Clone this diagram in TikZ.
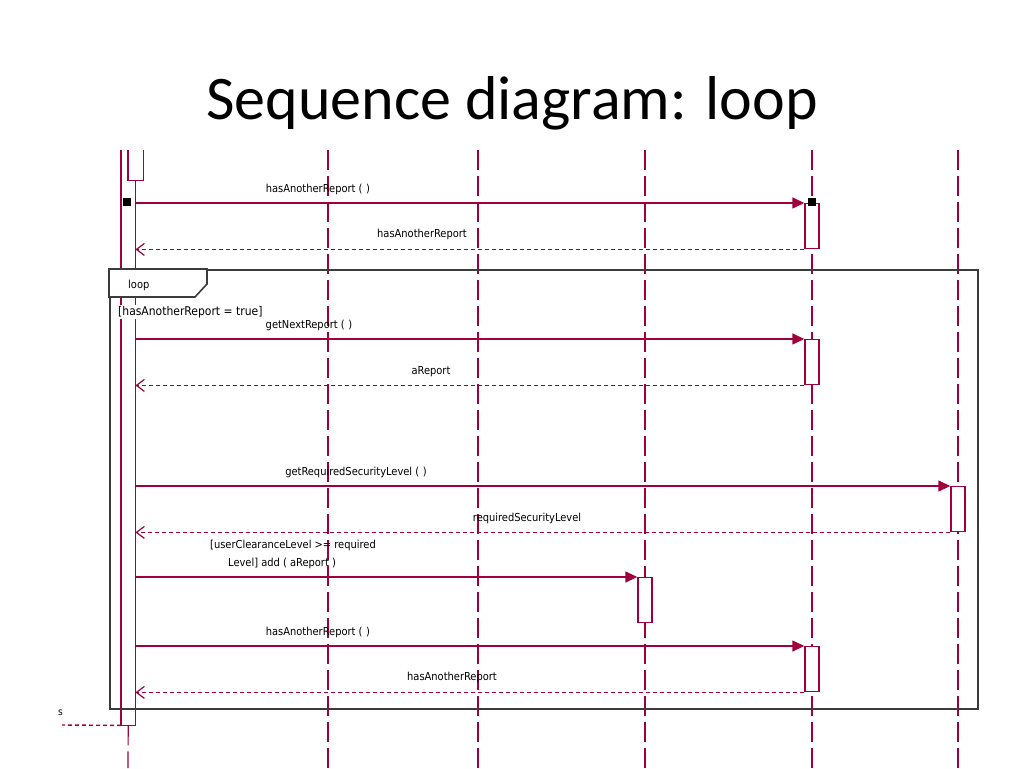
\documentclass[tikz,border=0pt]{standalone}
\usepackage{fontspec}
\setmainfont{Liberation Sans}
\newfontfamily\titlefont{Carlito}
\newfontfamily\lblfont{DejaVu Sans Condensed}
\usetikzlibrary{arrows.meta}
\definecolor{uml}{RGB}{160,0,60}
\definecolor{framegrey}{RGB}{60,60,60}
\begin{document}
\begin{tikzpicture}[x=1pt,y=-1pt,
  lbl/.style={font=\lblfont\fontsize{11}{12}\selectfont, text=black, inner sep=0pt, anchor=base},
  lifeline/.style={color=uml, line width=1.2pt, dash pattern=on 20pt off 6pt},
  actbox/.style={draw=uml, fill=white, line width=1.4pt, inner sep=0pt, minimum width=14pt, minimum height=45pt, anchor=north},
  call/.style={color=uml, line width=1.4pt, -{Triangle[length=12pt,width=11pt]}},
  ret/.style={color=uml, line width=1.4pt, dash pattern=on 4pt off 3pt, -{Straight Barb[length=8pt,width=12pt,line width=1.2pt]}},
  framestyle/.style={draw=framegrey, line width=1.6pt},
  marker/.style={fill=black, inner sep=0pt, minimum size=8pt},
]
\useasboundingbox (0,0) rectangle (1024,768);

% title
\node[font=\titlefont\fontsize{62}{70}\selectfont, anchor=base, inner sep=0pt] (title) at (512,119) {Sequence diagram: loop};

% lifelines
\foreach \n/\x in {b/328,c/478,d/645,e/812,f/958} {
  \coordinate (\n top) at (\x,150);
  \coordinate (\n bot) at (\x,768);
  \draw[lifeline] (\n top) -- (\n bot);
}
\coordinate (a bot) at (128,768);

% left activation bar
\node[fill=white, inner sep=0pt, minimum width=14pt, minimum height=575pt, anchor=north west] (a) at (121,150) {};
\draw[color=uml, line width=1.4pt] (a.north west) -- (a.south west) -- (a.south east) -- (a.north east);
\draw[lifeline] (a.south) -- (a bot);
\node[fill=white, inner sep=0pt, minimum width=15pt, minimum height=30pt, anchor=north west] (a0) at (128,150) {};
\draw[color=uml, line width=1.4pt] (a0.north west) -- (a0.south west) -- (a0.south east) -- (a0.north east);

% loop frame
\node[framestyle, inner sep=0pt, minimum width=868pt, minimum height=439pt, anchor=north west] (loopframe) at (109,269) {};
\draw[framestyle, fill=white] (loopframe.north west) -- ++(0,28) -- ++(86,0) -- ++(12,-13) -- ++(0,-15) -- cycle;
\node[lbl, anchor=base west] (looptag) at (128,288) {loop};
\node[lbl, anchor=base west, font=\lblfont\fontsize{12}{13}\selectfont, fill=white, inner sep=1pt] (guard) at (117,315) {[hasAnotherReport = true]};

% outgoing return on the left
\coordinate (leftend) at (62,725);
\draw[color=uml, line width=1.4pt, dash pattern=on 4pt off 3pt] (a.south west) -- (leftend);
\node[font=\lblfont\fontsize{10}{12}\selectfont, inner sep=0pt, anchor=base east] (cut) at (63,715) {s};

% message 1
\node[actbox] (e1) at (812,203) {};
\node[marker] (m1) at (127,202) {};
\node[marker] (m2) at (812,202) {};
\draw[call] (a.east |- e1.north) -- (e1.north west);
\node[lbl] (l1) at (318,192) {hasAnotherReport (\,\,)};
\draw[ret] (e1.south west) -- (a.east |- e1.south);
\node[lbl] (l2) at (422,237) {hasAnotherReport};

% getNextReport
\node[actbox] (e2) at (812,339) {};
\draw[call] (a.east |- e2.north) -- (e2.north west);
\node[lbl] (l3) at (309,328) {getNextReport (\,\,)};
\draw[ret] (e2.south west) -- (a.east |- e2.south);
\node[lbl] (l4) at (431,374) {aReport};

% getRequiredSecurityLevel
\node[actbox] (f1) at (958,486) {};
\draw[call] (a.east |- f1.north) -- (f1.north west);
\node[lbl] (l5) at (356,475) {getRequiredSecurityLevel (\,\,)};
\draw[ret] (f1.south west) -- (a.east |- f1.south);
\node[lbl] (l6) at (527,521) {requiredSecurityLevel};

% add
\node[actbox] (d1) at (645,577) {};
\draw[call] (a.east |- d1.north) -- (d1.north west);
\node[lbl, anchor=base west] (l7) at (210,548) {[userClearanceLevel >= required};
\node[lbl, anchor=base west] (l8) at (228,566) {Level] add ( aReport )};

% hasAnotherReport again
\node[actbox] (e3) at (812,646) {};
\draw[call] (a.east |- e3.north) -- (e3.north west);
\node[lbl] (l9) at (318,635) {hasAnotherReport (\,\,)};
\draw[ret] (e3.south west) -- (a.east |- e3.south);
\node[lbl] (l10) at (452,680) {hasAnotherReport};
\end{tikzpicture}
\end{document}
